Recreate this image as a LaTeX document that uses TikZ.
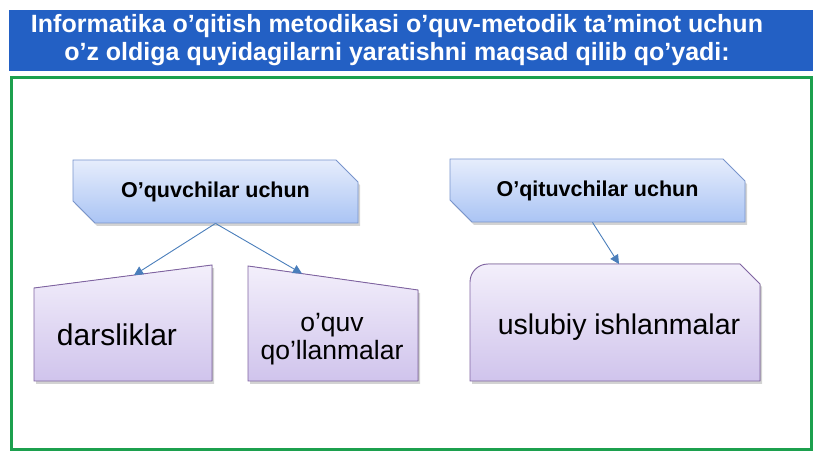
\documentclass[tikz,border=0pt]{standalone}
\usepackage{fontspec}
\setmainfont{Liberation Sans}
\usetikzlibrary{arrows.meta,positioning,shadows,shapes.misc}

\definecolor{titleblue}{RGB}{35,96,196}
\definecolor{framegreen}{RGB}{28,160,78}
\definecolor{headtop}{RGB}{230,237,252}
\definecolor{headbot}{RGB}{170,196,244}
\definecolor{headline}{RGB}{120,148,204}
\definecolor{leaftop}{RGB}{243,239,251}
\definecolor{leafbot}{RGB}{208,196,236}
\definecolor{leafline}{RGB}{128,100,162}
\definecolor{arrowblue}{RGB}{74,126,187}

\begin{document}
\begin{tikzpicture}[x=1pt,y=-1pt] %1 unit = 1 pixel of the slide
\tikzstyle{titletext}=[text=white, align=center, font=\bfseries\fontsize{25}{28}\selectfont]
\tikzstyle{head}=[chamfered rectangle, chamfered rectangle corners={north east,south west},
  chamfered rectangle xsep=12pt, chamfered rectangle ysep=12pt, inner sep=0pt,
  top color=headtop, bottom color=headbot, draw=headline, line width=0.8pt,
  drop shadow={shadow xshift=2pt, shadow yshift=-3pt, opacity=0.35},
  minimum height=63pt, font=\bfseries\fontsize{21.5}{25}\selectfont]
\tikzstyle{leaf}=[top color=leaftop, bottom color=leafbot, draw=leafline, line width=0.9pt,
  drop shadow={shadow xshift=2pt, shadow yshift=-3pt, opacity=0.35}]
\tikzstyle{leaftext}=[align=center, font=\fontsize{28.5}{30}\selectfont]
\tikzstyle{link}=[arrowblue, line width=0.9pt, -{Triangle[length=9pt,width=9pt]}]

 \useasboundingbox (0,0) rectangle (820,462);

 % title and frame
 \fill[titleblue] (9,10) rectangle (813,71);
 \node[titletext] (title) at (397,40) {Informatika o’qitish metodikasi o’quv-metodik ta’minot uchun\\
   o’z oldiga quyidagilarni yaratishni maqsad qilib qo’yadi:};
 \draw[framegreen, line width=3pt] (11,78) rectangle (811,450);

 % upper boxes
 \node[head, minimum width=285pt] (pupil) at (215.5,191.5) {O’quvchilar uchun};
 \node[head, minimum width=295pt] (teacher) at (597.5,190.5) {O’qituvchilar uchun};

 % lower boxes
 \filldraw[leaf] (34,288) -- (212,265) -- (212,381) -- (34,381) -- cycle;
 \coordinate (darslTop) at (134,275.2);
 \node[leaftext, font=\fontsize{30}{32}\selectfont] (darsl) at (117,335) {darsliklar};

 \filldraw[leaf] (248,266) -- (418,290) -- (418,381) -- (248,381) -- cycle;
 \coordinate (qollTop) at (302,273.6);
 \node[leaftext, font=\fontsize{26.5}{28}\selectfont] (qoll) at (332,339) {o’quv\\qo’llanmalar};

 \filldraw[leaf] (470,381) -- (470,282) arc[start angle=180, end angle=270, radius=18]
   -- (740,264) -- (760,284) -- (760,381) -- cycle;
 \coordinate (uslubTop) at (619,264);
 \node[leaftext] (uslub) at (619,327) {uslubiy ishlanmalar};

 % connectors
 \draw[link] (pupil.south) -- (darslTop);
 \draw[link] (pupil.south) -- (qollTop);
 \draw[link] ([xshift=-5pt]teacher.south) -- (uslubTop);
\end{tikzpicture}
\end{document}
